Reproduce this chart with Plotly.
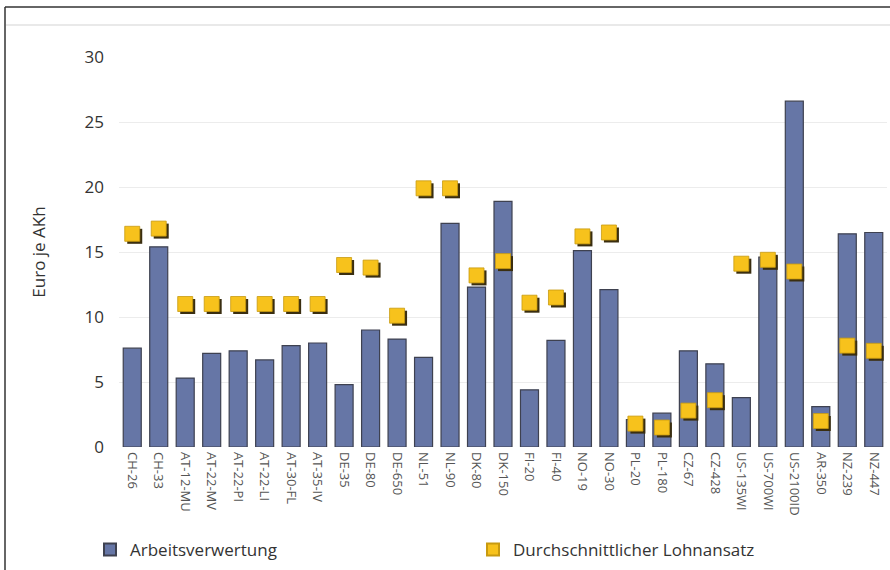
import plotly.graph_objects as go

categories = ["CH-26", "CH-33", "AT-12-MU", "AT-22-MV", "AT-22-PI", "AT-22-LI", "AT-30-FL",
              "AT-35-IV", "DE-35", "DE-80", "DE-650", "NL-51", "NL-90", "DK-80", "DK-150",
              "FI-20", "FI-40", "NO-19", "NO-30", "PL-20", "PL-180", "CZ-67", "CZ-428",
              "US-135WI", "US-700WI", "US-2100ID", "AR-350", "NZ-239", "NZ-447"]
arbeitsverwertung = [7.6, 15.4, 5.3, 7.2, 7.4, 6.7, 7.8, 8.0, 4.8, 9.0, 8.3, 6.9, 17.2, 12.3,
                     18.9, 4.4, 8.2, 15.1, 12.1, 2.1, 2.6, 7.4, 6.4, 3.8, 14.6, 26.6, 3.1,
                     16.4, 16.5]
lohnansatz = [16.4, 16.8, 11.0, 11.0, 11.0, 11.0, 11.0, 11.0, 14.0, 13.8, 10.1, 19.9, 19.9,
              13.2, 14.3, 11.1, 11.5, 16.2, 16.5, 1.8, 1.5, 2.8, 3.6, 14.1, 14.4, 13.5, 2.0,
              7.8, 7.4]
y_ticks = [0, 5, 10, 15, 20, 25, 30]

FONT = "Open Sans"
NARROW = "Liberation Sans Narrow, Open Sans"

l, t, r, b = 119, 57, 3, 123
W, H = 890, 570
pw, ph = W - l - r, H - t - b
n = len(categories)
xr = [-0.5, n - 0.5]
yr = [0, 30]
# shadow offset in pixels
sdx, sdy = 2.5, 2.5
ux = (xr[1] - xr[0]) / pw
uy = (yr[1] - yr[0]) / ph

def px_x(p):
    return (p - l) / pw

def px_y(p):
    return (H - b - p) / ph

fig = go.Figure()
fig.add_trace(go.Bar(
    x=categories, y=arbeitsverwertung, name="Arbeitsverwertung",
    marker=dict(color="#6676a6", line=dict(color="#3e4150", width=1.2)),
))
fig.add_trace(go.Scatter(
    x=categories, y=lohnansatz, name="shadow", mode="markers", showlegend=False,
    hoverinfo="skip", xaxis="x2", yaxis="y2",
    marker=dict(symbol="square", size=15, color="#3a2e10", line=dict(width=0)),
))
fig.add_trace(go.Scatter(
    x=categories, y=lohnansatz, name="Durchschnittlicher Lohnansatz", mode="markers",
    xaxis="x3", yaxis="y3",
    marker=dict(symbol="square", size=15, color="#f7c21c",
                line=dict(color="#c89a10", width=0.8)),
))

hidden = dict(visible=False, showgrid=False, zeroline=False)

fig.update_layout(
    width=W, height=H,
    margin=dict(l=l, r=r, t=t, b=b, autoexpand=False),
    paper_bgcolor="white", plot_bgcolor="white",
    bargap=0.32,
    font=dict(family=FONT, color="#333333"),
    showlegend=True,
    legend=dict(orientation="h", x=px_x(90), y=px_y(532), xanchor="left", yanchor="top",
                entrywidth=338, entrywidthmode="pixels",
                font=dict(size=17, color="#333333", family=FONT),
                itemsizing="constant", traceorder="normal"),
    xaxis=dict(type="category", tickangle=90, tickfont=dict(size=13, color="#555555", family=NARROW),
               showgrid=False, showline=False, ticks="", range=xr, ticklabelstandoff=4),
    yaxis=dict(range=yr, tickvals=y_ticks, tickfont=dict(size=17, color="#333333"),
               showgrid=True, gridcolor="#ececec", gridwidth=1, zeroline=False,
               showline=False, ticks="", ticklabelstandoff=14,
               title=dict(text="Euro je AKh", font=dict(size=17, color="#333333"), standoff=34)),
    xaxis2=dict(type="category", overlaying="x", range=[xr[0] - sdx * ux, xr[1] - sdx * ux],
                **hidden),
    yaxis2=dict(overlaying="y", range=[yr[0] + sdy * uy, yr[1] + sdy * uy], **hidden),
    xaxis3=dict(type="category", overlaying="x", range=xr, **hidden),
    yaxis3=dict(overlaying="y", range=yr, **hidden),
    shapes=[
        dict(type="line", xref="paper", yref="paper", x0=px_x(5), x1=px_x(890),
             y0=px_y(7), y1=px_y(7), line=dict(color="#333333", width=1.5)),
        dict(type="line", xref="paper", yref="paper", x0=px_x(5), x1=px_x(5),
             y0=px_y(7), y1=px_y(572), line=dict(color="#333333", width=1.5)),
        dict(type="line", xref="paper", yref="paper", x0=px_x(6), x1=px_x(890),
             y0=px_y(25), y1=px_y(25), line=dict(color="#e2e2e2", width=1.5)),
    ],
)

fig.write_html("out.html", config={"displayModeBar": False},
               post_script="document.body.style.margin='0';")
